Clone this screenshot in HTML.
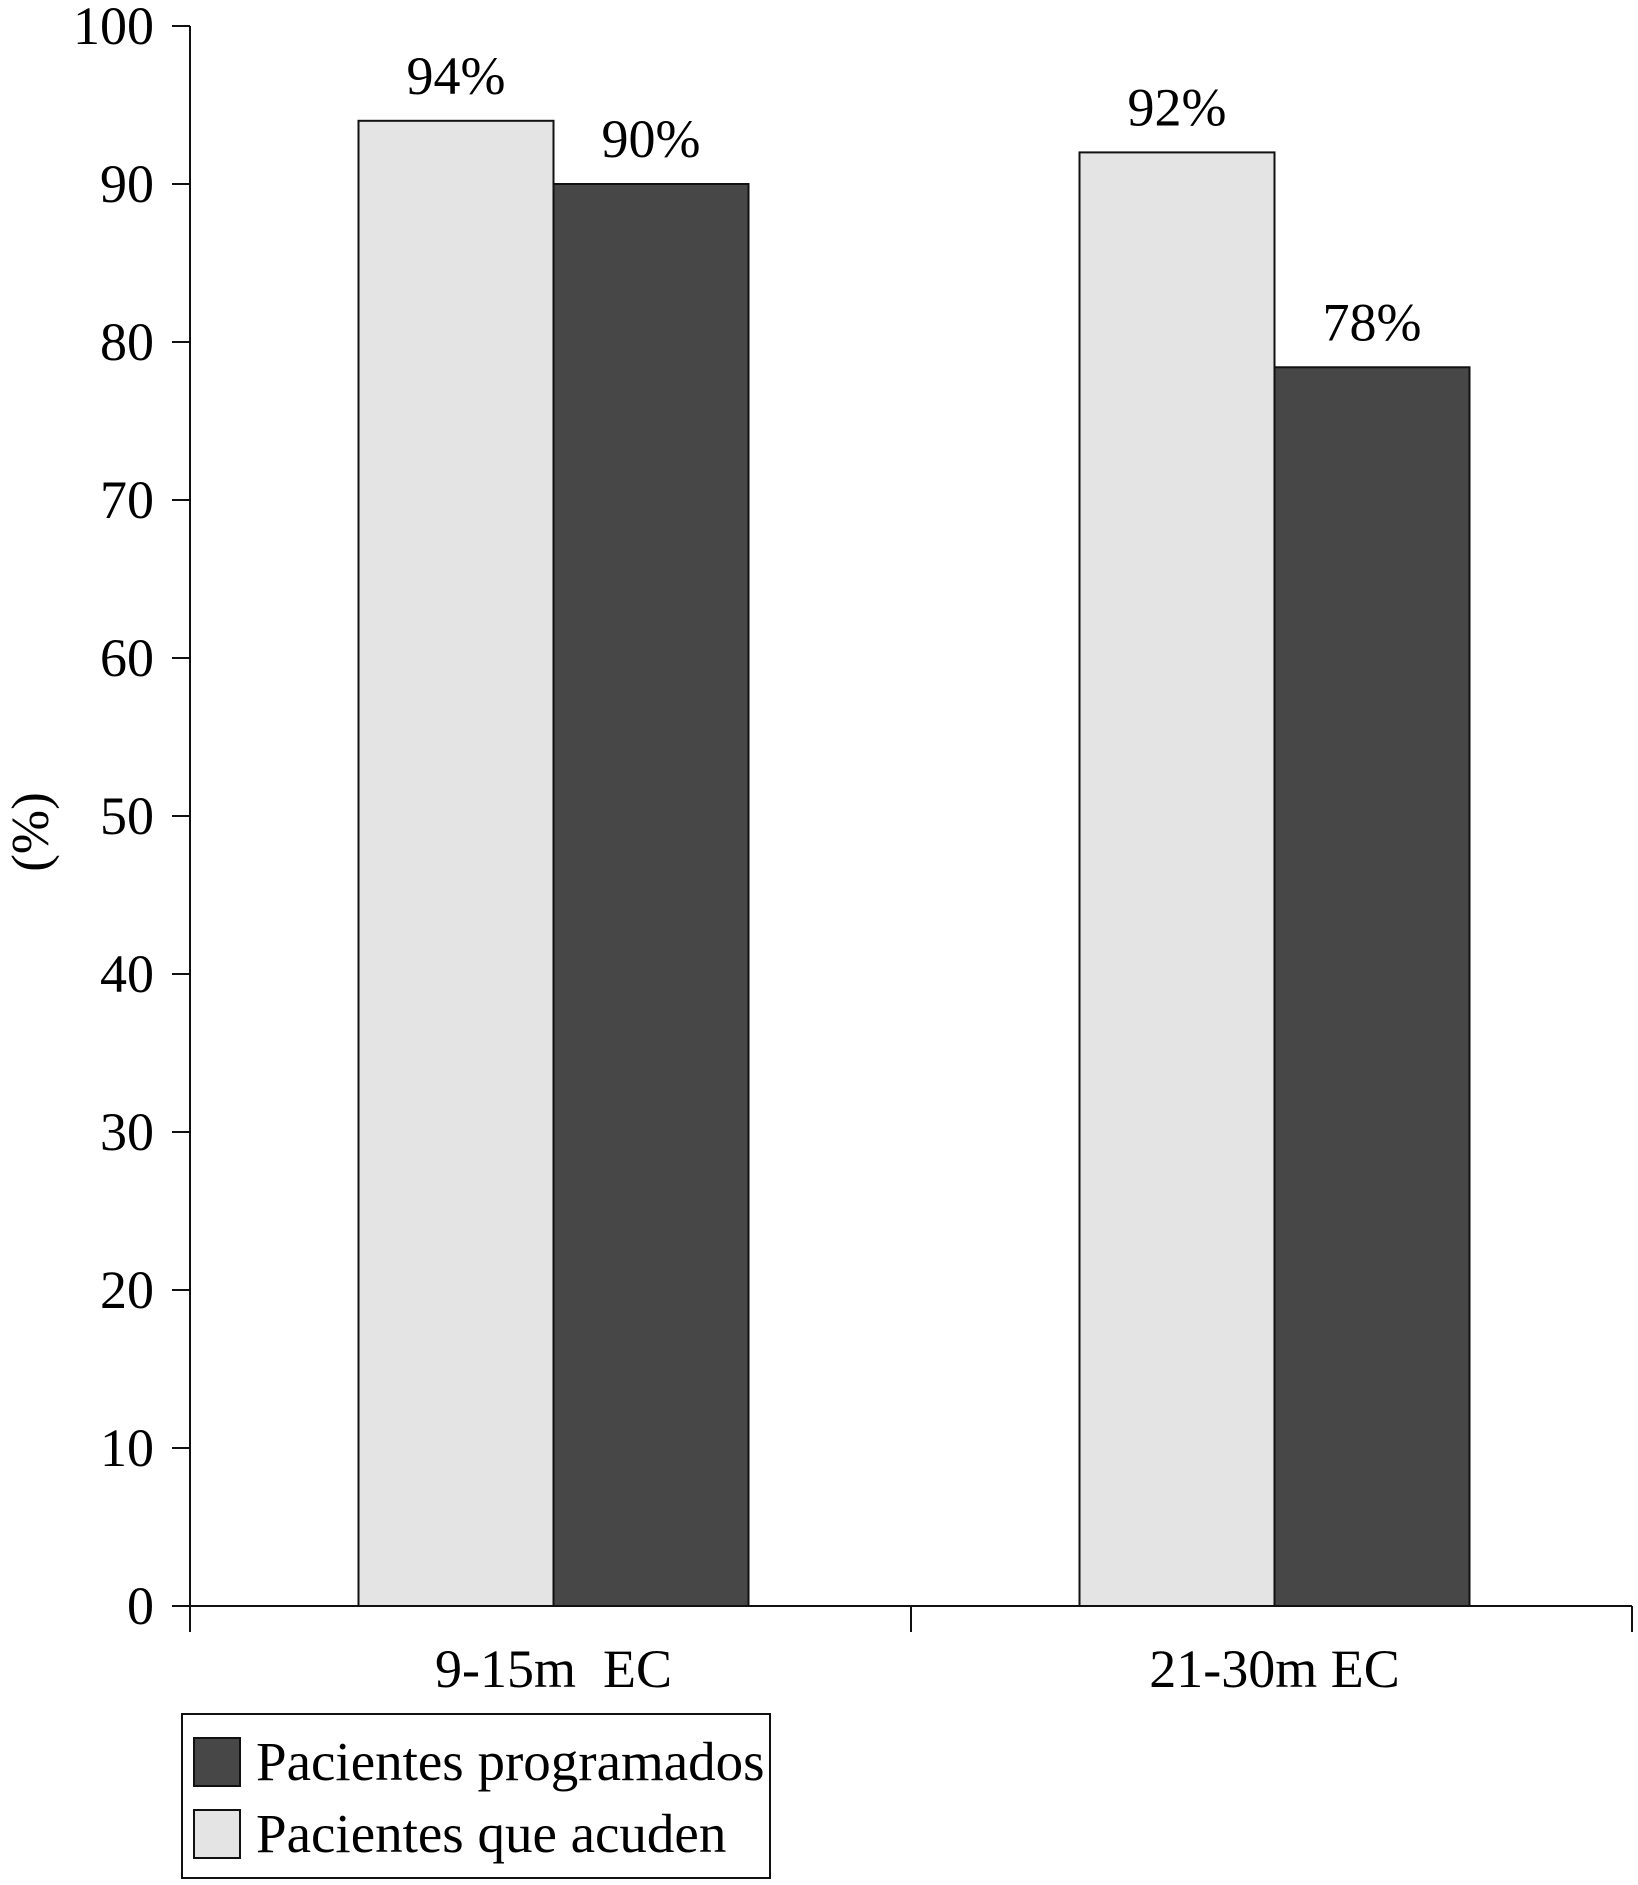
<!DOCTYPE html>
<html><head><meta charset="utf-8"><style>
html,body{margin:0;padding:0;background:#fff;}
svg{display:block;font-family:"Liberation Serif",serif;}
</style></head><body>
<svg id="chart" width="1638" height="1885" viewBox="0 0 1638 1885" xmlns="http://www.w3.org/2000/svg">
<g id="axes"></g><g id="bars"></g>
<text x="0" y="0" font-size="53" text-anchor="middle" transform="translate(48,832) rotate(-90)">(%)</text>
<g>
<rect x="182" y="1714" width="588" height="164" fill="#fff" stroke="#111" stroke-width="2"/>
<rect x="194" y="1738" width="46" height="48" fill="#474747" stroke="#111" stroke-width="2"/>
<text x="256" y="1780" font-size="55">Pacientes programados</text>
<rect x="194" y="1810" width="46" height="48" fill="#e4e4e4" stroke="#111" stroke-width="2"/>
<text x="256" y="1852" font-size="55">Pacientes que acuden</text>
</g>
</svg>
<script>
const categories = ["9-15m\u00a0\u00a0EC", "21-30m EC"];
const acuden = [94, 92];
const programados = [90, 78.4];
const valueLabelsAcuden = ["94%", "92%"];
const valueLabelsProgramados = ["90%", "78%"];
const yTicks = [0,10,20,30,40,50,60,70,80,90,100];

const NS = "http://www.w3.org/2000/svg";
const x0 = 190, x1 = 1632, yTop = 26, yBot = 1606;
const y = v => yBot - (v/100)*(yBot-yTop);
const groupW = (x1-x0)/categories.length;
const barW = 195;
function mk(tag, attrs, parent){const e=document.createElementNS(NS,tag);for(const k in attrs)e.setAttribute(k,attrs[k]);parent.appendChild(e);return e;}
const axes = document.getElementById('axes');
const bars = document.getElementById('bars');
let e;
e = mk('line',{x1:x0,y1:yTop,x2:x0,y2:1632,stroke:'#111','stroke-width':2},axes);


e = mk('line',{x1:x0,y1:yBot,x2:x1,y2:yBot,stroke:'#111','stroke-width':2},axes);


yTicks.forEach(t=>{
  const yy=y(t);
  e = mk('line',{x1:x0-18,y1:yy,x2:x0,y2:yy,stroke:'#111','stroke-width':2},axes);
  
  
  e = mk('text',{x:x0-36,y:yy+18,'font-size':54,'text-anchor':'end'},axes);
  e.textContent=t;
  
  
});
for(let i=0;i<=categories.length;i++){
  const xx=x0+i*groupW;
  e = mk('text',{},axes); axes.removeChild(e);
  e = mk('line',{x1:xx,y1:yBot,x2:xx,y2:1632,stroke:'#111','stroke-width':2},axes);
  
  
}
categories.forEach((c,i)=>{
  const cx = x0 + (i+0.5)*groupW + 3;
  e = mk('text',{x:cx,y:1687,'font-size':54,'text-anchor':'middle'},axes);
  e.textContent=c;
  
  
  const bx1 = cx - barW, bx2 = cx;
  e = mk('rect',{x:bx1,y:y(acuden[i]),width:barW,height:yBot-y(acuden[i]),fill:'#e4e4e4',stroke:'#111','stroke-width':2},bars);
  
  
  e = mk('rect',{x:bx2,y:y(programados[i]),width:barW,height:yBot-y(programados[i]),fill:'#474747',stroke:'#111','stroke-width':2},bars);
  
  
  e = mk('text',{x:bx1+barW/2,y:y(acuden[i])-27,'font-size':54,'text-anchor':'middle'},bars);
  e.textContent=valueLabelsAcuden[i];
  
  
  e = mk('text',{x:bx2+barW/2,y:y(programados[i])-27,'font-size':54,'text-anchor':'middle'},bars);
  e.textContent=valueLabelsProgramados[i];
  
  
});
</script>
</body></html>
